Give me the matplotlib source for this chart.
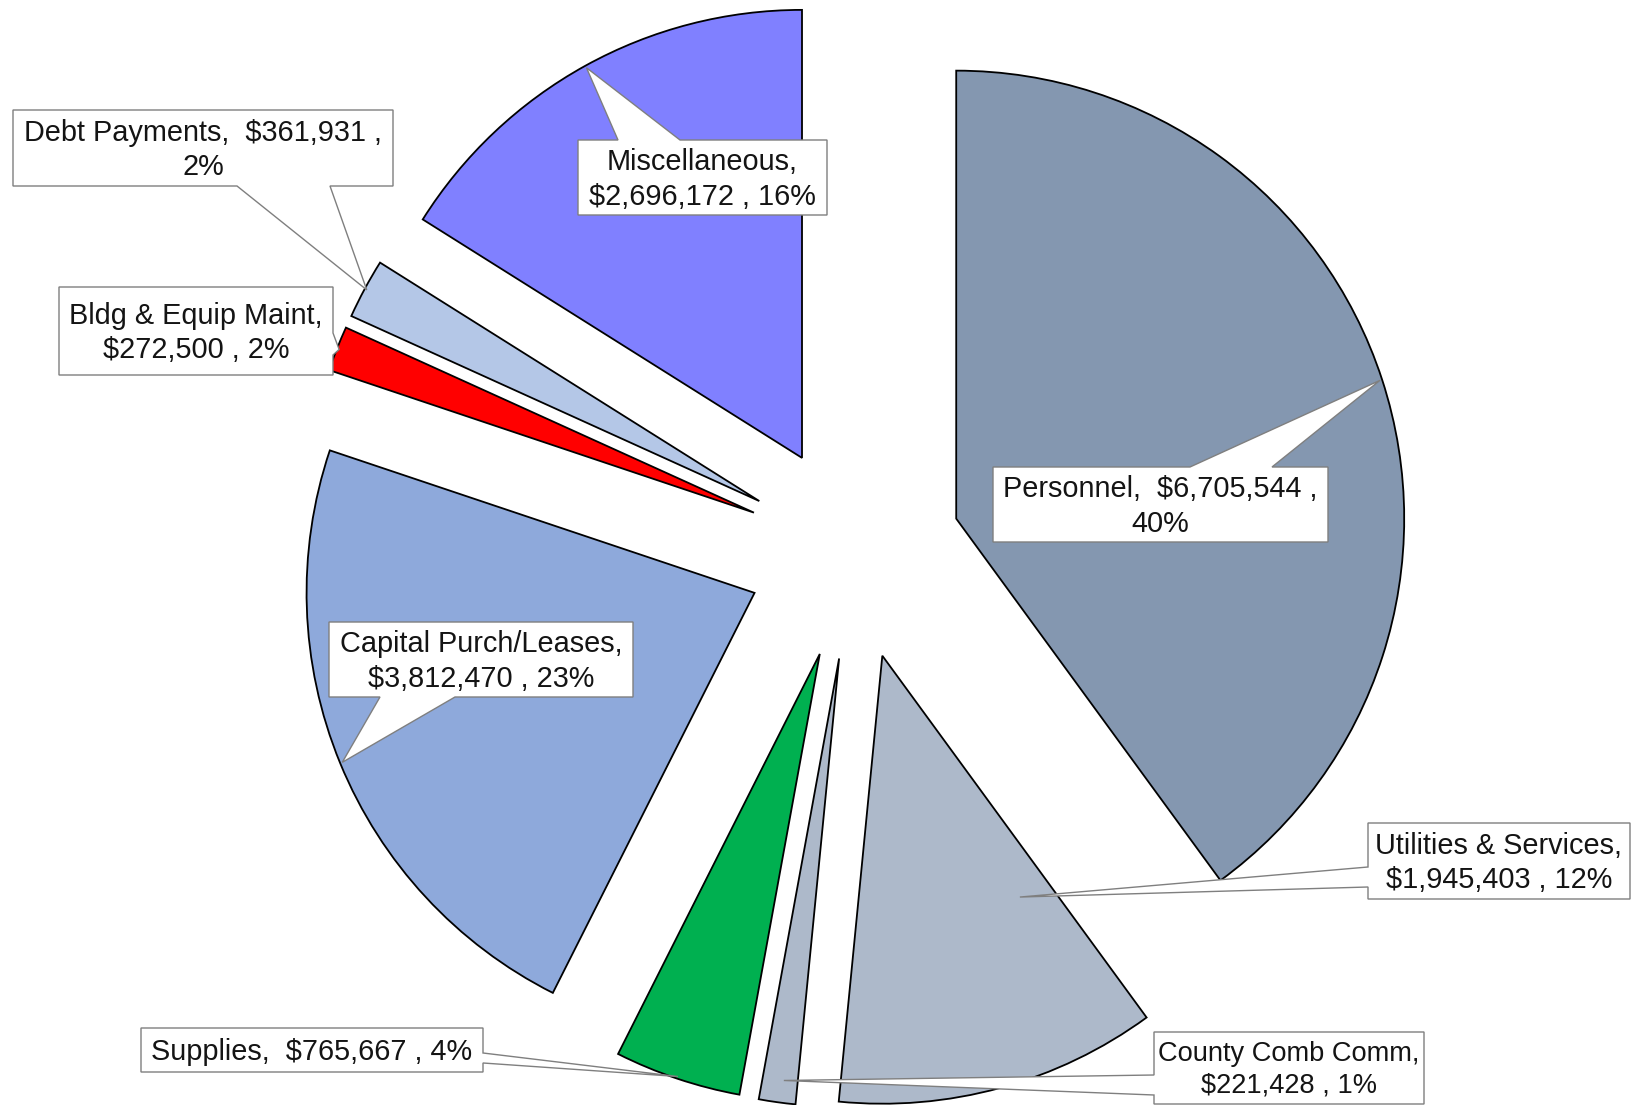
import matplotlib
matplotlib.use("Agg")
import matplotlib.pyplot as plt
from matplotlib.patches import Polygon
import numpy as np

# ---------------- data ----------------
categories = ["Personnel", "Utilities & Services", "County Comb Comm", "Supplies",
              "Capital Purch/Leases", "Bldg & Equip Maint", "Debt Payments", "Miscellaneous"]
amounts = [6705544, 1945403, 221428, 765667, 3812470, 272500, 361931, 2696172]
pct_labels = [40, 12, 1, 4, 23, 2, 2, 16]
colors = ["#8497B0", "#ADB9CA", "#ADB9CA", "#00B050", "#8EA9DB", "#FF0000", "#B4C7E7", "#8080FF"]
label_break = ["pct", "value", "value", None, "value", "value", "pct", "value"]

# ---------------- layout (figure pixels) ----------------
W, H = 1633, 1105
CX, CY, R = 854, 552, 448          # pie centre and radius in pixels
EXPLODE = 0.24

# callout boxes: (x0, x1, y_top, y_bottom), side of pointer, pointer base (a, b)
boxes = [
    ((993, 1328, 467, 542), "top", (1190, 1272)),
    ((1368, 1630, 823, 899), "left", (867, 887)),
    ((1154, 1424, 1032, 1104), "left", (1075, 1095)),
    ((141, 483, 1028, 1072), "right", (1053, 1063)),
    ((329, 633, 622, 697), "bottom", (380, 455)),
    ((59, 333, 287, 375), "right", (333, 355)),
    ((13, 393, 110, 186), "bottom", (237, 330)),
    ((578, 827, 140, 215), "top", (618, 680)),
]
font_sizes = [20.8, 20.8, 19.6, 20.8, 20.8, 20.8, 20.8, 20.8]
# pointer tip: (angle offset from slice mid-angle in deg, radial fraction)
tips = [(0, 0.995), (14.4, 0.62), (0.5, 0.95), (0, 0.995),
        (0, 0.995), (0, 0.995), (0, 0.995), (0, 0.995)]


def make_label(name, amt, pct, brk):
    v = f"${amt:,}"
    if brk == "value":
        return f"{name},\n{v} , {pct}%"
    if brk == "pct":
        return f"{name},  {v} ,\n{pct}%"
    return f"{name},  {v} , {pct}%"


def d2p(x, y):
    return CX + R * x, CY - R * y


def p2d(px, py):
    return (px - CX) / R, (CY - py) / R


fig = plt.figure(figsize=(W / 100, H / 100), dpi=100)
ax = fig.add_axes([0, 0, 1, 1])

wedges, _ = ax.pie(amounts, colors=colors, startangle=90, counterclock=False,
                   explode=[EXPLODE] * len(amounts), radius=1,
                   wedgeprops=dict(edgecolor="black", linewidth=1.3))

ax.set_xlim(-CX / R, (W - CX) / R)
ax.set_ylim(-(H - CY) / R, CY / R)
ax.set_aspect("equal")
ax.axis("off")

for i, w in enumerate(wedges):
    mid = 0.5 * (w.theta1 + w.theta2) + tips[i][0]
    rf = tips[i][1]
    cx, cy = w.center
    tx = cx + rf * w.r * np.cos(np.radians(mid))
    ty = cy + rf * w.r * np.sin(np.radians(mid))
    tip = d2p(tx, ty)
    (x0, x1, y0, y1), side, (a, b) = boxes[i]
    pts = [(x0, y0)]
    if side == "top":
        pts += [(a, y0), tip, (b, y0)]
    pts += [(x1, y0)]
    if side == "right":
        pts += [(x1, a), tip, (x1, b)]
    pts += [(x1, y1)]
    if side == "bottom":
        pts += [(b, y1), tip, (a, y1)]
    pts += [(x0, y1)]
    if side == "left":
        pts += [(x0, b), tip, (x0, a)]
    poly = Polygon([p2d(*p) for p in pts], closed=True, facecolor="white",
                   edgecolor="#7F7F7F", linewidth=1.0, zorder=5)
    ax.add_patch(poly)
    txt = make_label(categories[i], amounts[i], pct_labels[i], label_break[i])
    tx_c, ty_c = p2d((x0 + x1) / 2, (y0 + y1) / 2 + 2)
    ax.text(tx_c, ty_c, txt, ha="center", va="center", fontsize=font_sizes[i],
            family="Liberation Sans", color="#141414", linespacing=1.3, zorder=6)

fig.savefig("out.png", dpi=100)
